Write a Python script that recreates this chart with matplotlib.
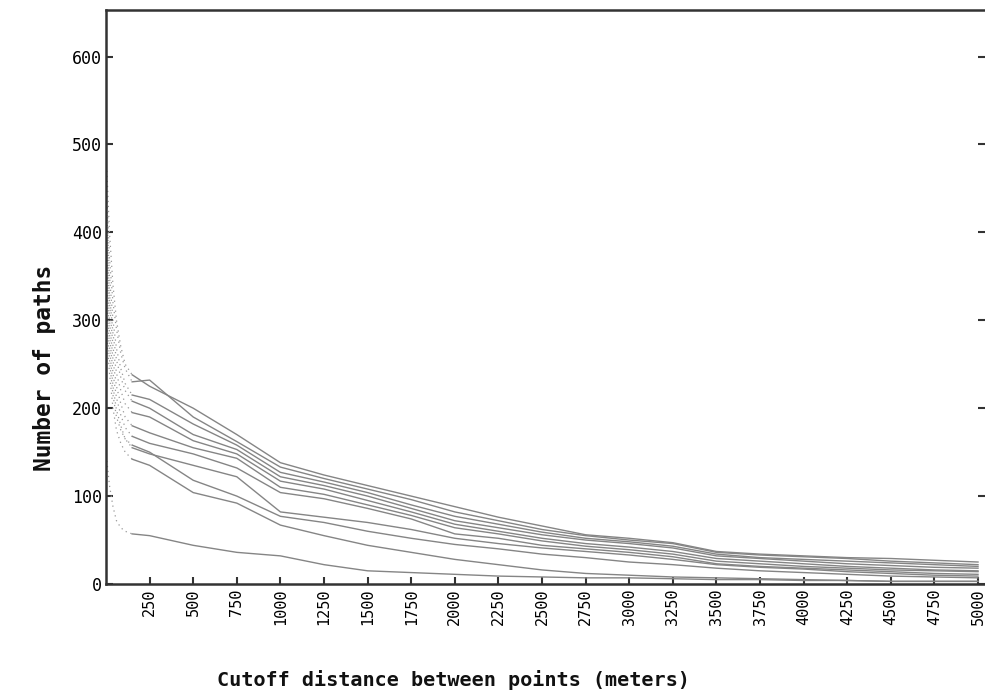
import numpy as np
import matplotlib
matplotlib.use("Agg")
import matplotlib.pyplot as plt

# ── Data ───────────────────────────────────────────────────────────────── #

# dotted start of each curve (very short cutoff distances)
head_x = [5, 20, 40, 60, 85, 110, 150]
heads = [
    [470, 400, 340, 300, 270, 250, 238],
    [440, 370, 320, 290, 262, 245, 230],
    [420, 350, 300, 268, 245, 228, 215],
    [400, 330, 285, 255, 235, 220, 208],
    [380, 320, 270, 240, 220, 205, 195],
    [360, 300, 255, 225, 205, 190, 180],
    [340, 285, 240, 212, 192, 178, 168],
    [320, 270, 225, 198, 180, 165, 155],
    [300, 255, 215, 190, 175, 165, 158],
    [280, 240, 200, 175, 160, 150, 142],
    [140, 112, 88, 72, 64, 60, 57],
]

dist = [250, 500, 750, 1000, 1250, 1500, 1750, 2000, 2250, 2500,
        2750, 3000, 3250, 3500, 3750, 4000, 4250, 4500, 4750, 5000]
curves = [
    [225, 200, 170, 138, 124, 112, 100, 88, 76, 66, 56, 52, 47, 37, 34, 32, 30, 29, 27, 25],
    [232, 190, 162, 133, 120, 108, 96, 82, 72, 62, 55, 50, 46, 36, 33, 31, 29, 26, 24, 22],
    [210, 182, 158, 127, 116, 104, 90, 77, 68, 59, 52, 48, 43, 34, 30, 28, 26, 24, 22, 20],
    [200, 170, 153, 122, 112, 100, 86, 72, 64, 56, 50, 46, 41, 32, 29, 26, 23, 21, 19, 18],
    [190, 163, 148, 117, 108, 95, 82, 68, 60, 52, 46, 42, 37, 29, 26, 23, 20, 18, 16, 15],
    [172, 155, 143, 110, 102, 90, 78, 64, 57, 49, 43, 39, 34, 26, 23, 20, 18, 16, 15, 14],
    [160, 148, 132, 104, 97, 86, 74, 57, 52, 44, 40, 36, 31, 23, 20, 18, 16, 14, 12, 11],
    [148, 135, 122, 82, 76, 70, 62, 52, 46, 41, 37, 33, 28, 22, 19, 17, 14, 12, 10, 9],
    [150, 118, 100, 77, 70, 60, 52, 45, 40, 34, 30, 25, 22, 18, 15, 13, 11, 9, 8, 7],
    [135, 104, 92, 67, 55, 44, 36, 28, 22, 16, 12, 10, 8, 7, 6, 5, 4, 3, 3, 3],
    [55, 44, 36, 32, 22, 15, 13, 11, 9, 8, 7, 7, 6, 5, 5, 4, 4, 3, 3, 3],
]

x_ticks = list(range(250, 5001, 250))
y_ticks = list(range(0, 601, 100))

LINE = "#858585"
AXC = "#333333"
MONO = "DejaVu Sans Mono"

# ── Plot ──────────────────────────────────────────────────────────────── #

fig = plt.figure(figsize=(9.85, 6.96), dpi=100)
ax = fig.add_axes([106 / 985, 112 / 696, 879 / 985, 574 / 696])

for h, c in zip(heads, curves):
    ax.plot(head_x, h, color="#9a9a9a", linestyle=(0, (1, 3)), linewidth=0.9)
    ax.plot([head_x[-1]] + dist, [h[-1]] + c, color=LINE, linewidth=1.0)

ax.set_xlim(0, 5040)
ax.set_ylim(0, 653)
ax.set_xticks(x_ticks)
ax.set_xticklabels([str(v) for v in x_ticks], rotation=90,
                   family=MONO, fontsize=11)
ax.set_yticks(y_ticks)
ax.set_yticklabels([str(v) for v in y_ticks], family=MONO, fontsize=12)
ax.tick_params(direction="in", length=5, width=1.5, color=AXC,
               right=True, labelright=False, pad=3)
for s in ax.spines.values():
    s.set_color(AXC)
    s.set_linewidth(1.8)
ax.spines["right"].set_visible(False)

fig.text(453 / 985, 1 - 680 / 696, "Cutoff distance between points (meters)",
         ha="center", va="center", family=MONO, fontweight="bold",
         fontsize=14.5, color="#111111")
fig.text(45 / 985, 1 - 368 / 696, "Number of paths", rotation=90,
         ha="center", va="center", family=MONO, fontweight="bold",
         fontsize=16.5, color="#111111")

plt.savefig("out.png", dpi=100)
